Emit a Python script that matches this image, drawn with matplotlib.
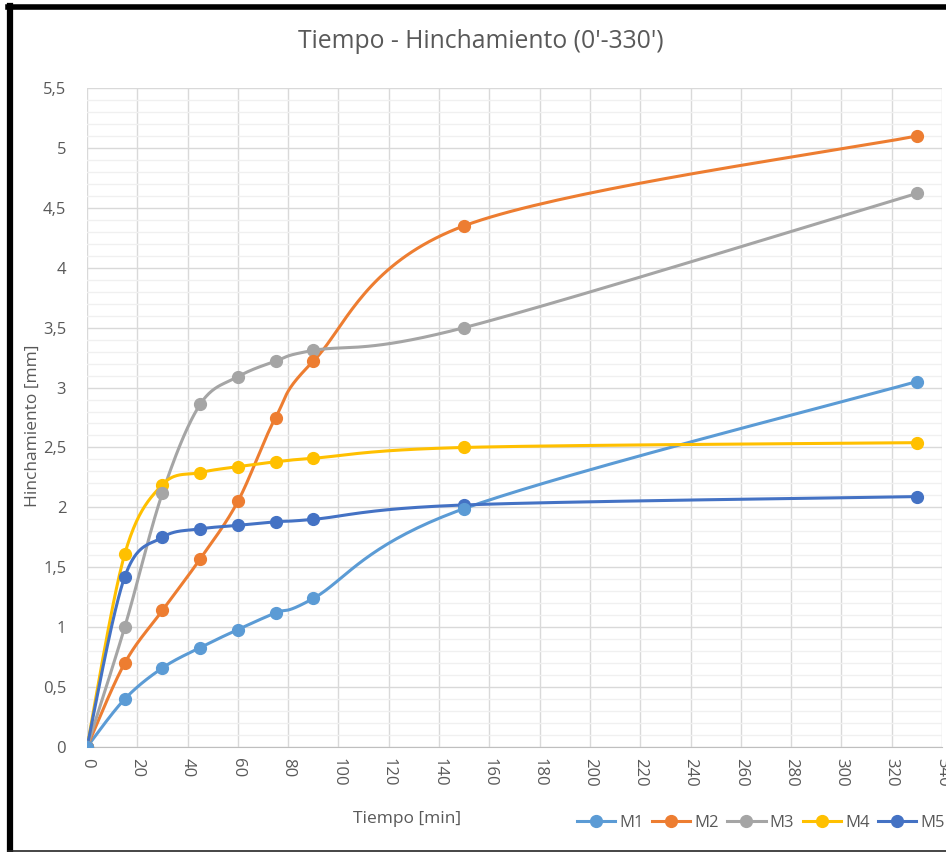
import numpy as np
import matplotlib.pyplot as plt
from matplotlib.lines import Line2D
from matplotlib.ticker import MultipleLocator, FuncFormatter

# Datos (tiempo en min, hinchamiento en mm)
tiempo = [0, 15, 30, 45, 60, 75, 90, 150, 330]
m1 = [0, 0.40, 0.66, 0.83, 0.98, 1.12, 1.24, 1.99, 3.05]
m2 = [0, 0.70, 1.14, 1.57, 2.05, 2.75, 3.22, 4.35, 5.10]
m3 = [0, 1.00, 2.12, 2.86, 3.09, 3.22, 3.31, 3.50, 4.62]
m4 = [0, 1.61, 2.19, 2.29, 2.34, 2.38, 2.41, 2.50, 2.54]
m5 = [0, 1.42, 1.75, 1.82, 1.85, 1.88, 1.90, 2.02, 2.09]
nombres = ['M1', 'M2', 'M3', 'M4', 'M5']
colores = ['#5B9BD5', '#ED7D31', '#A5A5A5', '#FFC000', '#4472C4']

plt.rcParams['font.family'] = ['Open Sans', 'DejaVu Sans']
gris = '#595959'


def suavizar(x, y, n=40):
    # curva suavizada tipo Excel (Bezier con puntos de control de Catmull-Rom)
    p = np.column_stack([x, y]).astype(float)
    ext = np.vstack([p[0], p, p[-1]])
    t = np.linspace(0, 1, n)[:, None]
    partes = []
    for i in range(len(p) - 1):
        p0, p1, p2, p3 = ext[i], ext[i + 1], ext[i + 2], ext[i + 3]
        c1 = p1 + (p2 - p0) / 6
        c2 = p2 - (p3 - p1) / 6
        b = ((1 - t) ** 3) * p1 + 3 * ((1 - t) ** 2) * t * c1 + 3 * (1 - t) * t ** 2 * c2 + t ** 3 * p2
        partes.append(b)
    c = np.vstack(partes)
    return c[:, 0], c[:, 1]


W, H = 946, 852
fig = plt.figure(figsize=(W / 100, H / 100), dpi=100)
ax = fig.add_axes([87 / W, 1 - 747 / H, (942 - 87) / W, (747 - 88) / H])

series = [m1, m2, m3, m4, m5]
for vals, col in zip(series, colores):
    xs, ys = suavizar(tiempo, vals)
    ax.plot(xs, ys, color=col, lw=2.2, zorder=3)
for vals, col in zip(series[::-1], colores[::-1]):
    ax.plot(tiempo, vals, 'o', color=col, ms=8.5, zorder=4)

ax.set_xlim(0, 340)
ax.set_ylim(0, 5.5)
ax.xaxis.set_major_locator(MultipleLocator(20))
ax.yaxis.set_major_locator(MultipleLocator(0.5))
ax.yaxis.set_minor_locator(MultipleLocator(0.1))
ax.yaxis.set_major_formatter(FuncFormatter(lambda v, p: ('%g' % v).replace('.', ',')))
ax.grid(True, which='major', color='#D9D9D9', lw=1)
ax.grid(True, which='minor', axis='y', color='#F0F0F0', lw=1)
ax.set_axisbelow(True)
for s in ['top', 'right', 'left']:
    ax.spines[s].set_visible(False)
ax.spines['bottom'].set_color('#BFBFBF')
ax.tick_params(axis='both', which='both', length=0, colors=gris, labelsize=12)
ax.tick_params(axis='x', labelrotation=270, pad=8)
ax.tick_params(axis='y', pad=15)

# textos
fig.text(481 / W, 1 - 42 / H, "Tiempo - Hinchamiento (0'-330')", fontsize=17.8,
         color=gris, ha='center', va='center')
fig.text(407 / W, 1 - 819 / H, 'Tiempo [min]', fontsize=12.5, color=gris,
         ha='center', va='center')
fig.text(33 / W, 1 - 426 / H, 'Hinchamiento [mm]', fontsize=12.5, color=gris,
         ha='center', va='center', rotation=90)

handles = [Line2D([], [], color=c, lw=2.2, marker='o', ms=8.5) for c in colores]
fig.legend(handles, nombres, loc='center right', bbox_to_anchor=(945 / W, 1 - 823 / H),
           ncol=5, frameon=False, fontsize=12,
           handlelength=2.3, handletextpad=0.25, columnspacing=0.5, labelcolor=gris,
           borderaxespad=0, borderpad=0)

# marco negro
fig.add_artist(Line2D([10 / W, 10 / W], [1 - 6 / H, 1 - 851 / H], color='black', lw=4.5))
fig.add_artist(Line2D([8 / W, 1], [1 - 6.5 / H, 1 - 6.5 / H], color='black', lw=4))
fig.add_artist(Line2D([8 / W, 1], [1 - 851 / H, 1 - 851 / H], color='#262626', lw=1.2))

fig.savefig('out.png', dpi=100)
